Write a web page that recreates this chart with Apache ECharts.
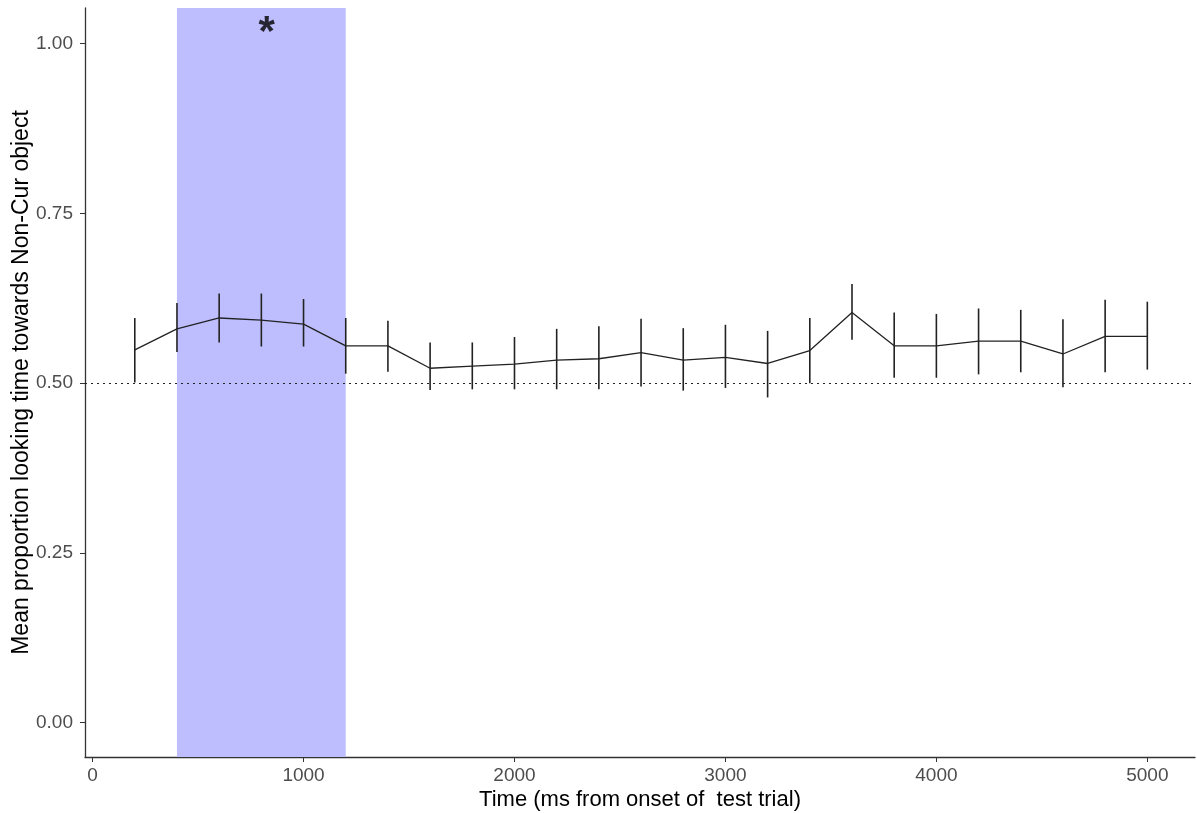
<!DOCTYPE html>
<html>
<head>
<meta charset="utf-8">
<script src="https://cdn.jsdelivr.net/npm/echarts@6/dist/echarts.min.js"></script>
<style>
  html, body { margin: 0; padding: 0; background: #fff; }
  #chart { width: 1197px; height: 813px; }
</style>
</head>
<body>
<div id="chart"></div>
<script>
// time bins (ms from onset of test trial)
let times = [200, 400, 600, 800, 1000, 1200, 1400, 1600, 1800, 2000, 2200, 2400, 2600,
             2800, 3000, 3200, 3400, 3600, 3800, 4000, 4200, 4400, 4600, 4800, 5000]
// mean proportion looking towards Non-Cur object
let means = [0.549, 0.580, 0.596, 0.593, 0.587, 0.555, 0.555, 0.522, 0.525, 0.528, 0.534, 0.536, 0.545,
             0.534, 0.538, 0.529, 0.548, 0.604, 0.555, 0.555, 0.562, 0.562, 0.543, 0.569, 0.569]
// error bar ends
let lows  = [0.501, 0.546, 0.560, 0.554, 0.554, 0.514, 0.517, 0.490, 0.491, 0.491, 0.491, 0.491, 0.495,
             0.489, 0.493, 0.479, 0.500, 0.564, 0.508, 0.508, 0.513, 0.516, 0.494, 0.516, 0.520]
let highs = [0.596, 0.618, 0.632, 0.632, 0.624, 0.596, 0.592, 0.560, 0.560, 0.568, 0.580, 0.584, 0.595,
             0.581, 0.586, 0.577, 0.596, 0.646, 0.604, 0.602, 0.610, 0.608, 0.594, 0.623, 0.620]
// significant window + star
let sigWindow = [400, 1200]
let star = [825, 1.015]
let chance = 0.5
let xTicks = [0, 1000, 2000, 3000, 4000, 5000]
let yTicks = [0, 0.25, 0.5, 0.75, 1]

let chart = echarts.init(document.getElementById('chart'))

let axisCol = '#333333'
let labelCol = '#4d4d4d'
let font = 'Liberation Sans, Arial, sans-serif'

let option = {
    animation: false,
    grid: { left: 85, right: 2, top: 8, bottom: 56, outerBoundsMode: 'none' },
    xAxis: {
        type: 'value',
        min: -36,
        max: 5226,
        name: 'Time (ms from onset of  test trial)',
        nameLocation: 'middle',
        nameGap: 32,
        nameMoveOverlap: false,
        nameTextStyle: { color: '#000', fontSize: 22, fontFamily: font },
        axisLine: { show: true, onZero: false, lineStyle: { color: axisCol, width: 1.3 } },
        axisTick: { show: true, length: 5, customValues: xTicks, lineStyle: { color: axisCol } },
        axisLabel: {
            customValues: xTicks, color: labelCol, fontSize: 19, fontFamily: font, margin: 9,
            formatter: function (v) { return String(v) }
        },
        splitLine: { show: false }
    },
    yAxis: {
        type: 'value',
        min: -0.0505,
        max: 1.0525,
        name: 'Mean proportion looking time towards Non-Cur object',
        nameLocation: 'middle',
        nameGap: 52,
        nameMoveOverlap: false,
        nameTextStyle: { color: '#000', fontSize: 23, fontFamily: font },
        axisLine: { show: true, onZero: false, lineStyle: { color: axisCol, width: 1.3 } },
        axisTick: { show: true, length: 5, customValues: yTicks, lineStyle: { color: axisCol } },
        axisLabel: {
            customValues: yTicks, color: labelCol, fontSize: 19, fontFamily: font, margin: 12,
            formatter: function (v) { return v.toFixed(2) }
        },
        splitLine: { show: false }
    },
    series: [
        {
            type: 'line',
            data: times.map(function (t, i) { return [t, means[i]] }),
            showSymbol: false,
            lineStyle: { color: '#222', width: 1.3 },
            z: 3,
            markArea: {
                silent: true,
                itemStyle: { color: '#bebeff' },
                data: [[{ xAxis: sigWindow[0] }, { xAxis: sigWindow[1] }]]
            },
            markLine: {
                silent: true,
                symbol: 'none',
                label: { show: false },
                lineStyle: { color: '#222', type: [2, 4], width: 1.2 },
                data: [{ yAxis: chance }]
            }
        },
        {
            type: 'custom',
            z: 4,
            data: times.map(function (t, i) { return [t, lows[i], highs[i]] }),
            renderItem: function (params, api) {
                let p1 = api.coord([api.value(0), api.value(1)])
                let p2 = api.coord([api.value(0), api.value(2)])
                return {
                    type: 'line',
                    shape: { x1: p1[0], y1: p1[1], x2: p2[0], y2: p2[1] },
                    style: { stroke: '#222', lineWidth: 1.6 }
                }
            }
        },
        {
            type: 'scatter',
            symbolSize: 0,
            data: [star],
            label: {
                show: true,
                position: 'inside',
                formatter: '*',
                color: '#000',
                fontSize: 42,
                fontWeight: 'bold',
                fontFamily: font
            }
        }
    ]
}

chart.setOption(option)
</script>
</body>
</html>
